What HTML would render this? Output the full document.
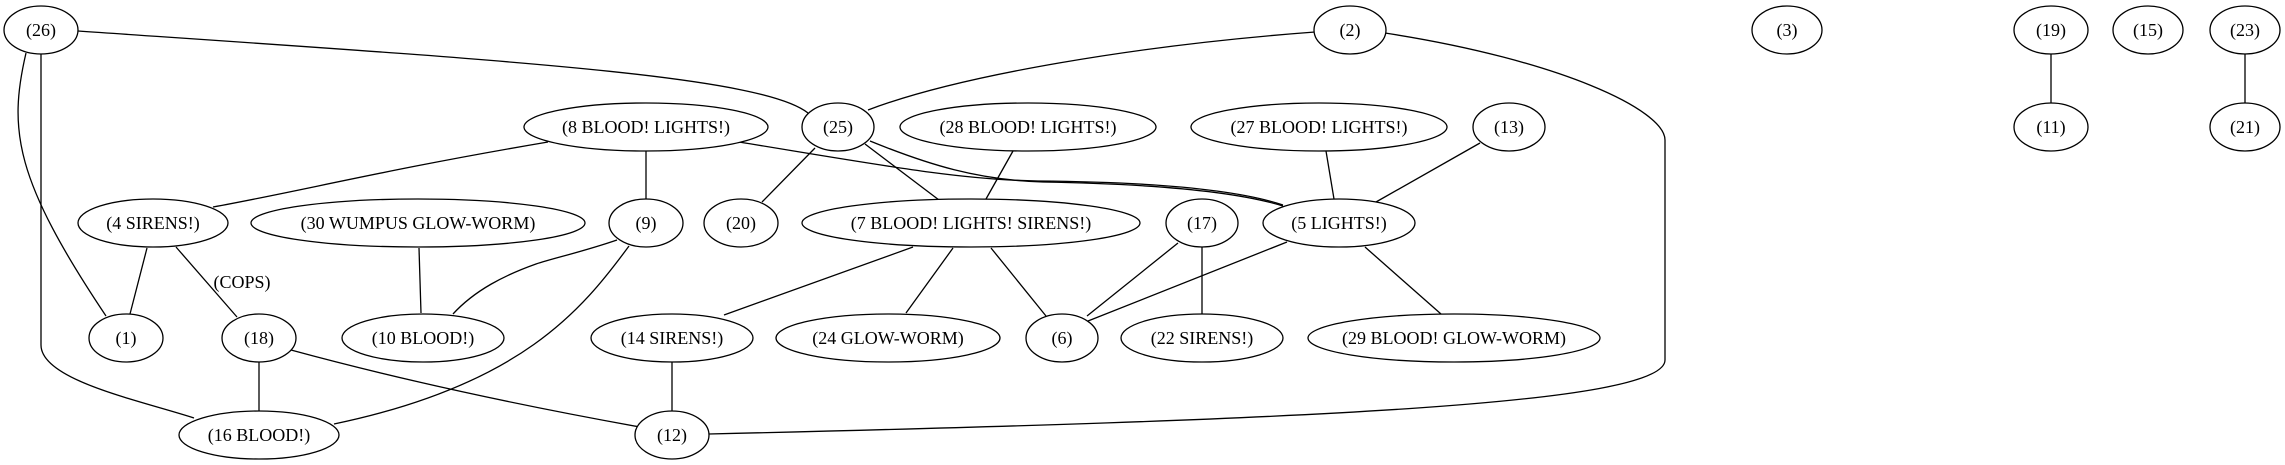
<!DOCTYPE html>
<html><head><meta charset="utf-8"><style>
html,body{margin:0;padding:0;background:#fff;}
svg{display:block;}
text{font-family:"Liberation Serif",serif;font-size:18px;fill:#000;}
</style></head><body>
<svg id="g" width="2285" height="465" viewBox="0 0 2285 465" xmlns="http://www.w3.org/2000/svg">
<g id="edges" fill="none" stroke="#000" stroke-width="1.3"></g>
<g id="nodes"></g>
<text x="242" y="288" text-anchor="middle">(COPS)</text>
</svg>
<script>
const labels = ["(26)","(2)","(3)","(19)","(15)","(23)","(8 BLOOD! LIGHTS!)","(25)","(28 BLOOD! LIGHTS!)","(27 BLOOD! LIGHTS!)","(13)","(11)","(21)","(4 SIRENS!)","(30 WUMPUS GLOW-WORM)","(9)","(20)","(7 BLOOD! LIGHTS! SIRENS!)","(17)","(5 LIGHTS!)","(1)","(18)","(10 BLOOD!)","(14 SIRENS!)","(24 GLOW-WORM)","(6)","(22 SIRENS!)","(29 BLOOD! GLOW-WORM)","(16 BLOOD!)","(12)"];
const nodeX = [41,1350,1787,2051,2148,2245,646,838,1028,1319,1509,2051,2245,153,418,646,741,971,1202,1339,126,259,423,672,888,1062,1202,1454,259,672];
const nodeRow = [0,0,0,0,0,0,1,1,1,1,1,1,1,2,2,2,2,2,2,2,3,3,3,3,3,3,3,3,4,4];
const nodeRx = [37,36,35,37,35,35,122,36,128,128,36,37,35,75,167,37,37,169,36,76,37,37,81,81,112,36,81,146,80,37];
const rowY = [30,127,223,338,435];
const edgePaths = [
 "M78 31 C500 60,760 75,808 113",
 "M26 53 C8 130,15 180,106 316",
 "M41 54 L41 345 C41 380,138 400,194 418",
 "M1315 32 C1140 45,960 75,868 110",
 "M1385 33 C1560 60,1665 110,1665 140 L1665 360 C1665 405,1300 420,709 434",
 "M548 142 C383 170,306 190,213 207",
 "M646 151 L646 199",
 "M739 142 C880 165,960 180,1038 181 C1157 182,1238 190,1283 205",
 "M870 141 C929 165,978 180,1043 182 C1157 184,1238 192,1283 206",
 "M815 148 L762 202",
 "M865 144 L939 200",
 "M1013 151 L986 199",
 "M1326 151 L1334 199",
 "M1480 143 L1376 202",
 "M147 248 L130 314",
 "M176 247 L237 317",
 "M419 248 L421 313",
 "M617 240 C582 252,554 258,536 264 C505 275,475 290,453 314",
 "M629 246 C582 310,521 385,334 424",
 "M913 247 L724 315",
 "M953 248 L906 313",
 "M991 248 L1046 316",
 "M1178 243 L1087 316",
 "M1202 247 L1202 314",
 "M1287 242 L1088 321",
 "M1365 247 L1441 314",
 "M259 362 L259 411",
 "M291 350 C383 375,490 400,640 427",
 "M672 362 L672 411",
 "M2051 54 L2051 103",
 "M2245 54 L2245 103"
];
const NS='http://www.w3.org/2000/svg';
const eg=document.getElementById('edges'), ng=document.getElementById('nodes');
edgePaths.forEach((d,i)=>{
 const p=document.createElementNS(NS,'path');
 p.setAttribute('d',d);
 
 
 eg.appendChild(p);
});
labels.forEach((t,i)=>{
 const g=document.createElementNS(NS,'g');
 
 
 const cx=nodeX[i], cy=rowY[nodeRow[i]];
 const e=document.createElementNS(NS,'ellipse');
 e.setAttribute('cx',cx);e.setAttribute('cy',cy);e.setAttribute('rx',nodeRx[i]);e.setAttribute('ry',24);
 e.setAttribute('fill','#fff');e.setAttribute('stroke','#000');e.setAttribute('stroke-width','1.3');
 g.appendChild(e);
 const tx=document.createElementNS(NS,'text');
 tx.setAttribute('x',cx);tx.setAttribute('y',cy+6);tx.setAttribute('text-anchor','middle');
 tx.textContent=t;
 g.appendChild(tx);
 ng.appendChild(g);
});
</script>
</body></html>
